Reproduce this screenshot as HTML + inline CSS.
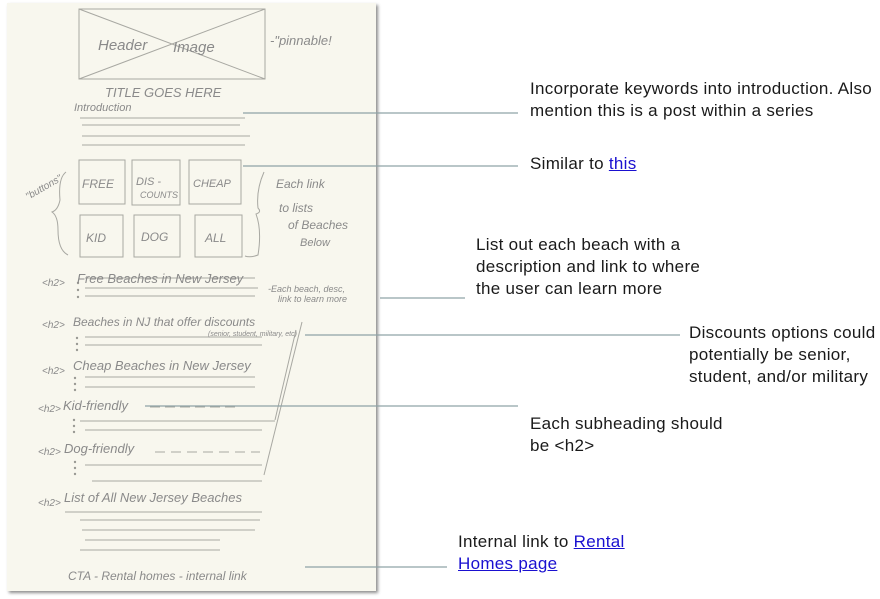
<!DOCTYPE html>
<html><head><meta charset="utf-8"><style>
html,body{margin:0;padding:0;background:#fff;}
body{width:880px;height:599px;position:relative;overflow:hidden;font-family:"Liberation Sans",sans-serif;}
.paper{position:absolute;left:7px;top:3px;width:369px;height:588px;background:#f8f7ee;box-shadow:2px 2px 3px rgba(0,0,0,0.45);}
.t{position:absolute;font-size:17px;letter-spacing:0.3px;line-height:22px;color:#1a1a1a;}
a{color:#1a10d0;text-decoration:underline;}
svg{position:absolute;left:0;top:0;}
.h{font-family:"Liberation Sans",sans-serif;font-style:italic;fill:#8a8a8a;}
</style></head><body>
<div class="paper"></div>
<svg width="880" height="599" viewBox="0 0 880 599">
<g stroke="#a8a8a2" stroke-width="1" fill="none">
<rect x="79" y="9" width="186" height="70"/>
<line x1="79" y1="9" x2="265" y2="79"/><line x1="79" y1="79" x2="265" y2="9"/>
<line x1="80" y1="118" x2="245" y2="118"/><line x1="82" y1="125" x2="240" y2="125"/>
<line x1="82" y1="136" x2="250" y2="136"/><line x1="82" y1="145" x2="245" y2="145"/>
<rect x="79" y="160" width="46" height="44"/><rect x="132" y="160" width="48" height="45"/><rect x="189" y="160" width="52" height="44"/>
<rect x="80" y="215" width="43" height="42"/><rect x="134" y="215" width="46" height="42"/><rect x="195" y="215" width="47" height="42"/>
<path d="M66 172 Q58 178 60 200 Q58 210 52 212 Q58 216 58 230 Q58 250 68 255"/>
<path d="M264 172 Q256 190 258 208 Q262 212 256 214 Q262 230 258 255 Q250 258 245 256"/>
<line x1="85" y1="278" x2="255" y2="278"/><line x1="85" y1="288" x2="258" y2="288"/><line x1="85" y1="296" x2="255" y2="296"/>
<line x1="85" y1="337" x2="262" y2="337"/><line x1="85" y1="345" x2="262" y2="345"/>
<line x1="85" y1="377" x2="255" y2="377"/><line x1="85" y1="387" x2="255" y2="387"/>
<line x1="150" y1="407" x2="240" y2="407" stroke-dasharray="10 5"/>
<line x1="80" y1="421" x2="275" y2="421"/><line x1="85" y1="430" x2="262" y2="430"/>
<line x1="155" y1="452" x2="260" y2="452" stroke-dasharray="10 6"/>
<line x1="85" y1="465" x2="262" y2="465"/><line x1="92" y1="481" x2="262" y2="481"/>
<line x1="65" y1="512" x2="262" y2="512"/><line x1="80" y1="520" x2="260" y2="520"/>
<line x1="82" y1="530" x2="255" y2="530"/><line x1="85" y1="540" x2="220" y2="540"/><line x1="80" y1="550" x2="220" y2="550"/>
<line x1="302" y1="322" x2="264" y2="475"/><line x1="296" y1="330" x2="275" y2="420"/>
</g>
<g fill="#9a9a94">
<circle cx="78" cy="283" r="1.2"/><circle cx="78" cy="290" r="1.2"/><circle cx="78" cy="297" r="1.2"/>
<circle cx="77" cy="338" r="1.2"/><circle cx="77" cy="344" r="1.2"/><circle cx="77" cy="350" r="1.2"/>
<circle cx="75" cy="378" r="1.2"/><circle cx="75" cy="384" r="1.2"/><circle cx="75" cy="390" r="1.2"/>
<circle cx="74" cy="420" r="1.2"/><circle cx="74" cy="426" r="1.2"/><circle cx="74" cy="432" r="1.2"/>
<circle cx="75" cy="462" r="1.2"/><circle cx="75" cy="468" r="1.2"/><circle cx="75" cy="474" r="1.2"/>
</g>
<g class="h" font-size="12">
<text x="98" y="50" font-size="15">Header</text><text x="173" y="52" font-size="15">Image</text>
<text x="270" y="45" font-size="13">-"pinnable!</text>
<text x="105" y="97" font-size="13">TITLE GOES HERE</text>
<text x="74" y="111" font-size="11">Introduction</text>
<text x="82" y="188" font-size="12">FREE</text><text x="136" y="185" font-size="11">DIS -</text><text x="140" y="198" font-size="9">COUNTS</text><text x="193" y="187" font-size="11">CHEAP</text>
<text x="86" y="242" font-size="12">KID</text><text x="141" y="241" font-size="12">DOG</text><text x="205" y="242" font-size="12">ALL</text>
<text x="28" y="200" font-size="10" transform="rotate(-30 28 200)">"buttons"</text>
<text x="276" y="188" font-size="12">Each link</text><text x="279" y="212" font-size="12">to lists</text>
<text x="288" y="229" font-size="12">of Beaches</text><text x="300" y="246" font-size="11">Below</text>
<text x="42" y="286" font-size="10">&lt;h2&gt;</text><text x="77" y="283" font-size="13">Free Beaches in New Jersey</text>
<text x="268" y="292" font-size="9">-Each beach, desc,</text><text x="278" y="302" font-size="9">link to learn more</text>
<text x="42" y="328" font-size="10">&lt;h2&gt;</text><text x="73" y="326" font-size="12">Beaches in NJ that offer discounts</text>
<text x="208" y="336" font-size="7">(senior, student, military, etc)</text>
<text x="42" y="374" font-size="10">&lt;h2&gt;</text><text x="73" y="370" font-size="13">Cheap Beaches in New Jersey</text>
<text x="38" y="412" font-size="10">&lt;h2&gt;</text><text x="63" y="410" font-size="13">Kid-friendly</text>
<text x="38" y="455" font-size="10">&lt;h2&gt;</text><text x="64" y="453" font-size="13">Dog-friendly</text>
<text x="38" y="506" font-size="10">&lt;h2&gt;</text><text x="64" y="502" font-size="13">List of All New Jersey Beaches</text>
<text x="68" y="580" font-size="12">CTA - Rental homes  -  internal link</text>
</g>
<g stroke="#8fa3a6" stroke-width="1.2" fill="none">
<line x1="243" y1="113" x2="518" y2="113"/>
<line x1="243" y1="166" x2="518" y2="166"/>
<line x1="380" y1="298" x2="465" y2="298"/>
<line x1="305" y1="335" x2="680" y2="335"/>
<line x1="145" y1="406" x2="518" y2="406"/>
<line x1="305" y1="567" x2="447" y2="567"/>
</g>
</svg>
<div class="t" style="left:530px;top:78px;">Incorporate keywords into introduction. Also<br>mention this is a post within a series</div>
<div class="t" style="left:530px;top:153px;">Similar to <a>this</a></div>
<div class="t" style="left:476px;top:234px;">List out each beach with a<br>description and link to where<br>the user can learn more</div>
<div class="t" style="left:689px;top:322px;">Discounts options could<br>potentially be senior,<br>student, and/or military</div>
<div class="t" style="left:530px;top:413px;">Each subheading should<br>be &lt;h2&gt;</div>
<div class="t" style="left:458px;top:531px;">Internal link to <a>Rental</a><br><a>Homes page</a></div>
</body></html>
